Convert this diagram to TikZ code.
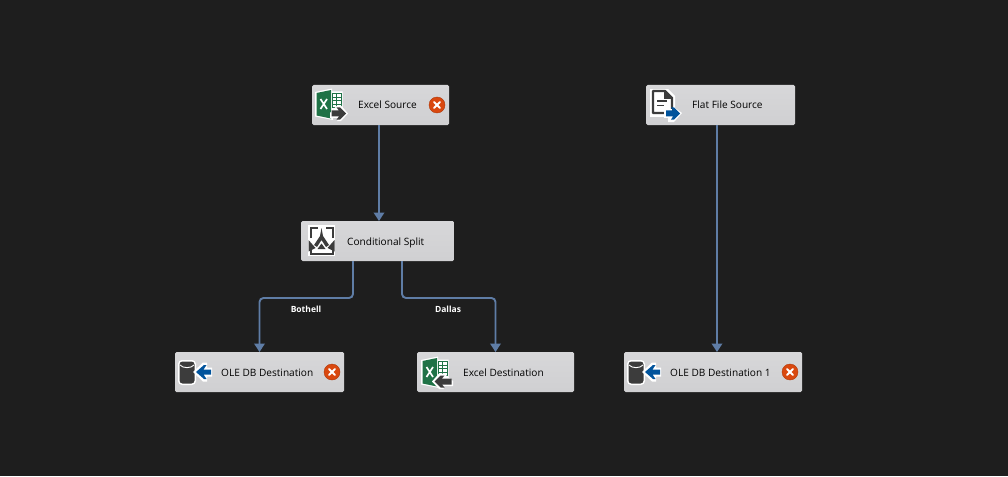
\documentclass[tikz,border=0pt]{standalone}
\usepackage{fontspec}
\setmainfont{Open Sans}
\usetikzlibrary{arrows.meta,calc}
\definecolor{bgc}{HTML}{1E1E1E}
\definecolor{boxc}{HTML}{D4D4D6}
\definecolor{linkc}{HTML}{5F7DA6}
\definecolor{darkc}{HTML}{3C3C3C}
\definecolor{greenc}{HTML}{1F7246}
\definecolor{bluec}{HTML}{00539C}
\definecolor{errc}{HTML}{D9480F}
\tikzset{
  x=1pt,y=-1pt,
  taskbox/.style={inner sep=0pt,outer sep=0pt,rounded corners=1.5pt,top color=boxc!93!white,bottom color=boxc!98!black,minimum height=40pt,anchor=north west},
  tasklabel/.style={font=\fontsize{10.1}{12}\selectfont,text=black,anchor=base west,inner sep=0pt},
  flowlabel/.style={font=\fontsize{8.5}{10}\selectfont\bfseries,text=white,inner sep=0pt},
  link/.style={draw=linkc,line width=1.9pt,rounded corners=4pt,-{Triangle[length=8.5pt,width=10.5pt]}},
  errbadge/.style={circle,fill=errc,draw=errc!80!black,line width=.4pt,minimum size=16pt,inner sep=0pt},
}
\newcommand{\excelbase}{%
  \fill[white] (315,92)--(332,88.5)--(332,91.5)--(342.5,91.5)--(342.5,109)--(333,109)--(333,120)--(315,116.5)--cycle;
  \fill[greenc] (316.5,93)--(331,90)--(331,118.5)--(316.5,115.5)--cycle;
  \draw[white,line width=1.7pt] (320.5,99)--(327,109) (327,99)--(320.5,109);
  \draw[greenc,line width=.8pt] (332,93.5) rectangle (341,107.5) (332,97)--(341,97) (332,100.5)--(341,100.5) (332,104)--(341,104) (336,93.5)--(336,107.5);
}
\newcommand{\oleicon}{%
  \fill[white,rounded corners=4pt] (178,360) rectangle (196,385);
  \fill[darkc,rounded corners=3pt] (179.5,361.5) rectangle (194.5,383.5);
  \draw[white,line width=.9pt] (180,365) .. controls (183,368.5) and (191,368.5) .. (194,365);
  \fill[white] (193,372)--(203,362.5)--(207,362.5)--(207,367.5)--(212,367.5)--(212,376.5)--(207,376.5)--(207,381.5)--(203,381.5)--cycle;
  \fill[bluec] (196,372)--(204,365)--(206.5,365)--(203.5,369.5)--(211,369.5)--(211,374.5)--(203.5,374.5)--(206.5,379)--(204,379)--cycle;
}
\begin{document}
\begin{tikzpicture}
\useasboundingbox (0,0) rectangle (1008,476);
\fill[bgc] (0,0) rectangle (1008,476);

% boxes
\node[taskbox,minimum width=137pt] (src) at (312,85) {};
\node[taskbox,minimum width=149pt] (flat) at (646,85) {};
\node[taskbox,minimum width=153pt] (split) at (301,221) {};
\node[taskbox,minimum width=169pt] (ole) at (175,352) {};
\node[taskbox,minimum width=157pt] (xdst) at (417,352) {};
\node[taskbox,minimum width=178pt] (ole1) at (624,352) {};

% connectors
\draw[link] ([xshift=-1.5pt]src.south) -- ([xshift=1.5pt]split.north);
\draw[link] ([xshift=-3.5pt]flat.south) -- ([xshift=4pt]ole1.north);
\draw[link] ([xshift=-24.5pt]split.south) |- ($(ole.north)+(0,-54)$) -- (ole.north);
\draw[link] ([xshift=24.5pt]split.south) |- ($(xdst.north)+(0,-54)$) -- (xdst.north);

% labels
\node[tasklabel] (t1) at (358,109) {Excel Source};
\node[tasklabel] (t2) at (692,109) {Flat File Source};
\node[tasklabel] (t3) at (347,245) {Conditional Split};
\node[tasklabel] (t4) at (221,376) {OLE DB Destination};
\node[tasklabel] (t5) at (463,376) {Excel Destination};
\node[tasklabel] (t6) at (670,376) {OLE DB Destination 1};
\node[flowlabel] (l1) at (306,309.5) {Bothell};
\node[flowlabel] (l2) at (448,309.5) {Dallas};

% error badges
\foreach \n/\p in {e1/{(437,105)},e2/{(332,372)},e3/{(790,372)}}{
  \node[errbadge] (\n) at \p {};
  \draw[white,line width=1.8pt,line cap=round] ($(\n)+(-3,-3)$)--($(\n)+(3,3)$) ($(\n)+(-3,3)$)--($(\n)+(3,-3)$);
}

% Excel Source icon
\excelbase
\fill[white] (330,113)--(337,105.5)--(341,105.5)--(348,113.5)--(341,121)--(337,121)--(339,118)--(330,118)--cycle;
\fill[darkc] (331.5,110.5)--(339,110.5)--(336.5,107.5)--(340,107.5)--(346,113.5)--(340,119.5)--(336.5,119.5)--(339,116.5)--(331.5,116.5)--cycle;

% Excel Destination icon
\begin{scope}[shift={(106,268)}]
\excelbase
\fill[white] (347,113)--(338,105.5)--(333,105.5)--(326,113.5)--(333,121)--(338,121)--(336,118)--(347,118)--cycle;
\fill[darkc] (345.5,110.5)--(336,110.5)--(338.5,107.5)--(334.5,107.5)--(328.5,113.5)--(334.5,119.5)--(338.5,119.5)--(336,116.5)--(345.5,116.5)--cycle;
\end{scope}

% Flat file icon
\fill[white] (650,89) rectangle (668,117);
\fill[white] (668,89)--(675,96)--(675,108)--(682,113)--(674,122)--(668,122)--(668,117)--cycle;
\draw[darkc,line width=2.4pt,line join=round] (653,91)--(665,91)--(672,98)--(672,113)--(653,113)--cycle;
\fill[darkc] (664,91)--(672,99)--(664,99)--cycle;
\draw[darkc,line width=1.6pt] (657,101)--(667,101) (657,105.5)--(664,105.5);
\fill[white] (664,109) rectangle (672,118);
\fill[bluec] (666,110.5)--(673,110.5)--(671,107.5)--(674,107.5)--(680,113.5)--(674,119.5)--(671,119.5)--(673,116.5)--(666,116.5)--cycle;

% Conditional split icon
\fill[white] (308,225) rectangle (335,256);
\draw[darkc,line width=2pt] (310.5,238)--(310.5,227.5)--(317.5,227.5) (332.5,238)--(332.5,227.5)--(325.5,227.5);
\draw[darkc,line width=2pt] (310.5,250)--(310.5,254)--(332.5,254)--(332.5,250);
\fill[darkc] (321.5,228)--(323,236)--(329,245)--(326,247)--(321.5,240)--(317,247)--(314,245)--(320,236)--cycle;
\fill[darkc] (308.5,240)--(315.5,248)--(308.5,251.5)--cycle;
\fill[darkc] (334.5,240)--(327.5,248)--(334.5,251.5)--cycle;
\fill[darkc] (321.5,243.5)--(325.5,249)--(317.5,249)--cycle;

% OLE icons
\oleicon
\begin{scope}[shift={(449,0)}]\oleicon\end{scope}
\end{tikzpicture}
\end{document}
